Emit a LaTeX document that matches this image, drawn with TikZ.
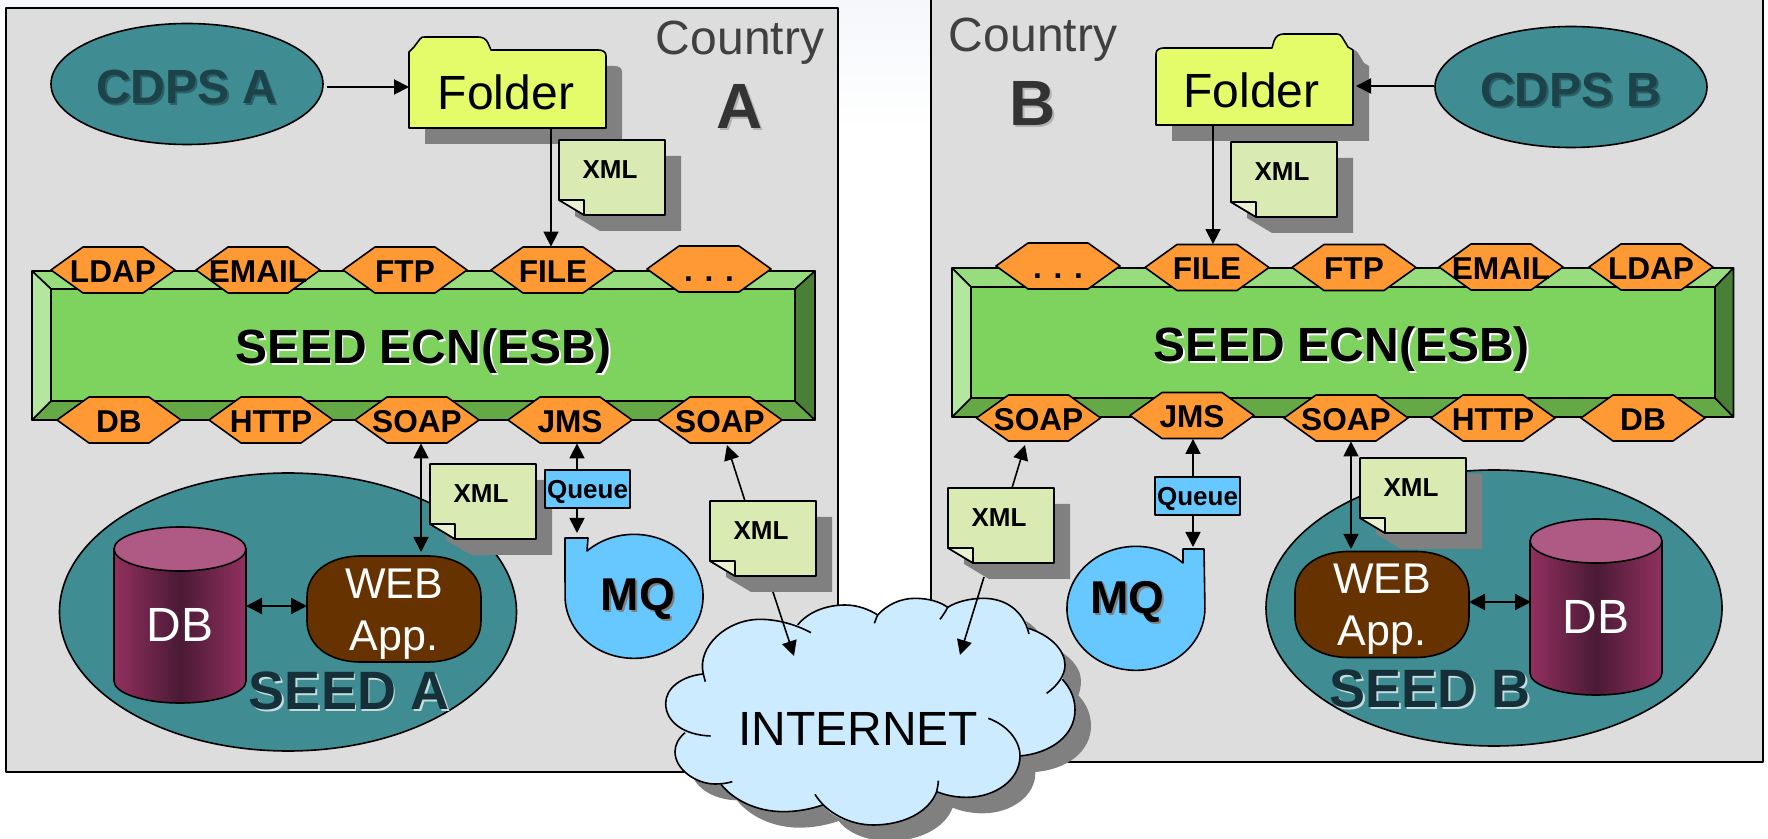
\documentclass[tikz,border=0pt]{standalone}
\usepackage{fontspec}
\setmainfont{Liberation Sans}
\usetikzlibrary{arrows.meta,shapes.geometric}
\definecolor{panelgrey}{HTML}{DDDDDD}
\definecolor{shadowgrey}{HTML}{808080}
\definecolor{teal}{HTML}{3F8C92}
\definecolor{tealtext}{HTML}{1C4349}
\definecolor{seedtext}{HTML}{16303A}
\definecolor{foldery}{HTML}{E4FB6A}
\definecolor{docgreen}{HTML}{DAEAB3}
\definecolor{hexorange}{HTML}{FF9933}
\definecolor{barmid}{HTML}{7ED35E}
\definecolor{bartop}{HTML}{97DC7D}
\definecolor{barleft}{HTML}{B3E69E}
\definecolor{barbot}{HTML}{65A846}
\definecolor{barright}{HTML}{4A8036}
\definecolor{mqblue}{HTML}{66C8FF}
\definecolor{cloudblue}{HTML}{CCEBFF}
\definecolor{webbrown}{HTML}{663300}
\definecolor{dbedge}{HTML}{92305F}
\definecolor{dbmid}{HTML}{4A1A35}
\definecolor{dbcap}{HTML}{AE5A85}
\definecolor{labelgrey}{HTML}{404040}
\definecolor{bgtint}{HTML}{F5F7FB}
\tikzset{
  x=0.5pt,y=-0.5pt,
  line width=0.8pt,
  outline/.style={draw=black,line width=0.8pt,line join=round},
  shadowfill/.style={fill=shadowgrey,draw=none},
  hexline/.style={outline,fill=hexorange},
  hexlabel/.style={inner sep=0pt,minimum width=62pt,minimum height=23pt,text height=12.4pt,text depth=0pt,font=\fontsize{15.8}{18}\selectfont\bfseries},
  doclabel/.style={inner sep=0pt,font=\fontsize{13}{15}\selectfont\bfseries},
  link/.style={draw=black,line width=0.8pt,-{Triangle[length=7.5pt,width=7.5pt]}},
  linkboth/.style={draw=black,line width=0.8pt,{Triangle[length=7.5pt,width=7.5pt]}-{Triangle[length=7.5pt,width=7.5pt]}},
  heavy/.style={draw=black,line width=1.1pt,{Triangle[length=8pt,width=8pt]}-{Triangle[length=8pt,width=8pt]}},
  cdps/.style={ellipse,outline,fill=teal,inner sep=0pt,minimum width=136pt,minimum height=60.5pt},
  seedblob/.style={ellipse,outline,fill=teal,inner sep=0pt},
  queuebox/.style={rectangle,outline,fill=mqblue,inner sep=0pt,minimum width=42.5pt,minimum height=19pt,text height=12.5pt,text depth=2.7pt,font=\fontsize{13}{15}\selectfont\bfseries},
  plainlabel/.style={inner sep=0pt},
}
\newcommand{\hexn}[4]{%
  \draw[hexline,shift={(#2,#3)}] (-62,0)--(-30,-23)--(30,-23)--(62,0)--(30,23)--(-30,23)--cycle;
  \node[hexlabel] (#1) at (#2,#3) {#4};}
\newcommand{\docn}[3]{%
  \fill[shadowfill,shift={(#2+16,#3+16)}] (0,0)--(106,0)--(106,75)--(25,75)--(0,60)--cycle;
  \draw[outline,fill=docgreen,shift={(#2,#3)}] (0,0)--(106,0)--(106,75)--(25,75)--(0,60)--cycle;
  \draw[outline,fill=docgreen!60!white,shift={(#2,#3)}] (0,60)--(25,60)--(25,75)--cycle;
  \node[doclabel] (#1) at (#2+51,#3+30) {XML};}
\newcommand{\barn}[9]{% name, x1,y1,x2,y2, ix1,iy1,ix2,iy2
  \draw[outline,fill=bartop] (#2,#3)--(#4,#3)--(#8,#7)--(#6,#7)--cycle;
  \draw[outline,fill=barbot] (#2,#5)--(#4,#5)--(#8,#9)--(#6,#9)--cycle;
  \draw[outline,fill=barleft] (#2,#3)--(#6,#7)--(#6,#9)--(#2,#5)--cycle;
  \draw[outline,fill=barright] (#4,#3)--(#8,#7)--(#8,#9)--(#4,#5)--cycle;
  \draw[outline,fill=barmid] (#6,#7) rectangle (#8,#9);}
\newcommand{\webn}[3]{%
  \draw[outline,fill=webbrown,shift={(#2,#3)}] (-33,-53)--(33,-53) .. controls (67,-53) and (87,-35) .. (87,-12)--(87,12) .. controls (87,35) and (67,53) .. (33,53)--(-33,53) .. controls (-67,53) and (-87,35) .. (-87,12)--(-87,-12) .. controls (-87,-35) and (-67,-53) .. (-33,-53)--cycle;
  \node[plainlabel,text=white,align=center,font=\fontsize{21.5}{26}\selectfont] (#1) at (#2,#3+5) {WEB\\App.};}
\newcommand{\cylinder}[4]{% name, cx, top, textY
  \draw[outline,left color=dbedge,right color=dbedge,middle color=dbmid,shift={(#2,#3)}] (-66,22)--(-66,154) arc[start angle=180,end angle=0,x radius=66,y radius=22]--(66,22)--cycle;
  \draw[outline,fill=dbcap,shift={(#2,#3)}] (0,22) ellipse [x radius=66,y radius=22];
  \node[plainlabel,text=white,font=\fontsize{24}{26}\selectfont] (#1) at (#2,#4) {DB};}
\newcommand{\shtext}[7]{% name, x, y, size, color, shadowcolor, text
  \node[plainlabel,text=#6,font=\fontsize{#4}{#4}\selectfont\bfseries] (#1s) at (#2+1.8,#3+1.8) {#7};
  \node[plainlabel,text=#5,font=\fontsize{#4}{#4}\selectfont\bfseries] (#1) at (#2,#3) {#7};}
\def\cloudoutline{(160,252) .. controls (140,170) and (230,88) .. (330,88) .. controls (375,88) and (420,95) .. (443,105)
 .. controls (475,65) and (530,45) .. (585,45) .. controls (625,45) and (660,60) .. (683,75)
 .. controls (710,45) and (750,25) .. (795,25) .. controls (835,25) and (870,35) .. (893,52)
 .. controls (920,35) and (960,25) .. (1000,25) .. controls (1065,25) and (1120,60) .. (1135,115)
 .. controls (1200,135) and (1245,180) .. (1245,225) .. controls (1245,240) and (1242,255) .. (1237,268)
 .. controls (1262,295) and (1275,325) .. (1275,360) .. controls (1275,435) and (1205,490) .. (1108,498)
 .. controls (1110,570) and (1035,622) .. (950,622) .. controls (915,622) and (885,615) .. (860,605)
 .. controls (835,670) and (755,705) .. (670,705) .. controls (600,705) and (545,680) .. (518,645)
 .. controls (480,658) and (440,665) .. (400,665) .. controls (320,665) and (250,630) .. (213,583)
 .. controls (140,582) and (75,540) .. (75,485) .. controls (75,465) and (85,445) .. (105,428)
 .. controls (70,405) and (47,375) .. (47,340) .. controls (47,295) and (95,258) .. (160,252) -- cycle}
\begin{document}
\begin{tikzpicture}
\path[use as bounding box] (0,0) rectangle (1768,839);
\clip (0,0) rectangle (1768,839);
\fill[white] (0,0) rectangle (1768,839);
\fill[bgtint] (0,0) rectangle (931,7);
\shade[top color=bgtint,bottom color=white] (838,0) rectangle (931,130);

% ---------- Country A ----------
\draw[outline,fill=panelgrey] (6,8) rectangle (838,772);
\node[plainlabel,anchor=base,text=labelgrey,font=\fontsize{24}{26}\selectfont] (countryA) at (740,55) {Country};
\node[plainlabel,anchor=base,text=shadowgrey!60!white,font=\fontsize{32}{34}\selectfont\bfseries] (letterAs) at (741.5,130.5) {A};
\node[plainlabel,anchor=base,text=labelgrey!80!black,font=\fontsize{32}{34}\selectfont\bfseries] (letterA) at (740,129) {A};

\node[cdps] (cdpsA) at (187,84) {};
\shtext{cdpsAt}{187}{87}{24}{tealtext}{tealtext!60!teal}{CDPS A}

\fill[shadowfill,shift={(16,16)}] (409,128)--(409,52)--(414,47)--(420,39) .. controls (421,37) and (423,37) .. (425,37)--(478,37) .. controls (483,37) and (486,39) .. (488,43)--(491,50)--(598,50) .. controls (603,50) and (606,52) .. (606,56)--(606,128)--cycle;
\draw[outline,fill=foldery] (409,128)--(409,52)--(414,47)--(420,39) .. controls (421,37) and (423,37) .. (425,37)--(478,37) .. controls (483,37) and (486,39) .. (488,43)--(491,50)--(598,50) .. controls (603,50) and (606,52) .. (606,56)--(606,128)--cycle;
\node[plainlabel,font=\fontsize{24}{26}\selectfont] (folderA) at (506,92) {Folder};
\coordinate (folderAw) at (409,87);
\coordinate (folderAs) at (551,128);

\docn{xmlAa}{559}{140}

\barn{esbA}{32}{271}{815}{420}{51}{289}{795}{401}
\shtext{esbAt}{424}{351}{24}{black}{white}{SEED ECN(ESB)}

\hexn{ldapA}{113}{270}{LDAP}
\hexn{emailA}{258}{270}{EMAIL}
\hexn{ftpA}{405}{270}{FTP}
\hexn{fileA}{553}{270}{FILE}
\hexn{moreA}{709}{269}{. . .}
\hexn{dbhexA}{119}{420}{DB}
\hexn{httpA}{271}{420}{HTTP}
\hexn{soapA}{417}{420}{SOAP}
\hexn{jmsA}{570}{420}{JMS}
\hexn{soapAb}{720}{420}{SOAP}

\node[seedblob,minimum width=228.5pt,minimum height=139pt] (seedA) at (288,612) {};
\cylinder{dbA}{180}{527}{625}
\webn{webA}{394}{609}
\coordinate (dbAe) at (246,606);
\coordinate (webAw) at (307,606);
\draw[heavy] (dbAe) -- (webAw);
\shtext{seedAt}{349.5}{691}{27}{seedtext}{white!70!teal}{SEED A}

\docn{xmlAb}{430}{464}
\coordinate (webAn) at (421,552);
\draw[linkboth] (soapA.south -| webAn) -- (webAn);

\draw[outline,fill=mqblue] (565,538)--(588,538)--(587,551) arc[start angle=-133,end angle=180,x radius=69,y radius=62]--cycle;
\shtext{mqA}{638}{599}{23}{black}{shadowgrey}{MQ}
\node[queuebox] (queueA) at (587.5,489) {Queue};
\coordinate (queueAx) at (577,470);
\coordinate (mqAn) at (577,533);
\draw[link] (queueAx) -- (queueAx |- jmsA.south);
\draw[link] (queueA.south -| mqAn) -- (mqAn);

\docn{xmlAc}{710}{501}
\coordinate (xmlActop) at (745,501);
\coordinate (soapAend) at (727,445);
\draw[link] (xmlActop) -- (soapAend);

% ---------- Country B ----------
\draw[outline,fill=panelgrey] (931,-6) rectangle (1763,762);
\node[plainlabel,anchor=base,text=labelgrey,font=\fontsize{24}{26}\selectfont] (countryB) at (1033,52) {Country};
\node[plainlabel,anchor=base,text=shadowgrey!60!white,font=\fontsize{32}{34}\selectfont\bfseries] (letterBs) at (1034.5,127.5) {B};
\node[plainlabel,anchor=base,text=labelgrey!80!black,font=\fontsize{32}{34}\selectfont\bfseries] (letterB) at (1033,126) {B};

\node[cdps] (cdpsB) at (1571,87) {};
\shtext{cdpsBt}{1571}{90}{24}{tealtext}{tealtext!60!teal}{CDPS B}

\fill[shadowfill,shift={(16,16)}] (1156,125)--(1156,54) .. controls (1156,50) and (1159,48) .. (1164,48)--(1272,48)--(1274,41) .. controls (1276,36) and (1279,34) .. (1284,34)--(1337,34) .. controls (1339,34) and (1341,35) .. (1342,37)--(1348,47)--(1353,50)--(1353,125)--cycle;
\draw[outline,fill=foldery] (1156,125)--(1156,54) .. controls (1156,50) and (1159,48) .. (1164,48)--(1272,48)--(1274,41) .. controls (1276,36) and (1279,34) .. (1284,34)--(1337,34) .. controls (1339,34) and (1341,35) .. (1342,37)--(1348,47)--(1353,50)--(1353,125)--cycle;
\node[plainlabel,font=\fontsize{24}{26}\selectfont] (folderB) at (1251.5,90) {Folder};
\coordinate (folderBe) at (1356,86);
\coordinate (folderBs) at (1213,125);

\docn{xmlBa}{1231}{142}

\barn{esbB}{952}{268}{1733.5}{417}{971}{287}{1715}{398}
\shtext{esbBt}{1342}{349}{24}{black}{white}{SEED ECN(ESB)}

\hexn{moreB}{1058}{266}{. . .}
\hexn{fileB}{1207}{267.5}{FILE}
\hexn{ftpB}{1354}{267.5}{FTP}
\hexn{emailB}{1501}{267}{EMAIL}
\hexn{ldapB}{1651}{267}{LDAP}
\hexn{soapB}{1038.5}{418}{SOAP}
\hexn{jmsB}{1192}{415.5}{JMS}
\hexn{soapBb}{1346}{418}{SOAP}
\hexn{httpB}{1493}{418}{HTTP}
\hexn{dbhexB}{1643}{418}{DB}

\node[seedblob,minimum width=228pt,minimum height=138pt] (seedB) at (1494,608) {};
\cylinder{dbB}{1596}{519}{617}
\webn{webB}{1382}{604.5}
\coordinate (dbBw) at (1531,602);
\coordinate (webBe) at (1469,602);
\draw[heavy] (webBe) -- (dbBw);
\shtext{seedBt}{1430}{689}{27}{seedtext}{white!70!teal}{SEED B}

\docn{xmlBb}{1360}{458}
\coordinate (webBn) at (1351,549);
\draw[linkboth] (soapBb.south -| webBn) -- (webBn);

\draw[outline,fill=mqblue] (1204,549)--(1183,549)--(1183,563) arc[start angle=-47,end angle=-360,x radius=69,y radius=62]--cycle;
\shtext{mqB}{1127.5}{602}{23}{black}{shadowgrey}{MQ}
\node[queuebox] (queueB) at (1197.5,496) {Queue};
\coordinate (queueBx) at (1193,477);
\coordinate (mqBn) at (1193,547);
\draw[link] (queueBx) -- (queueBx |- jmsB.south);
\draw[link] (queueB.south -| mqBn) -- (mqBn);

\docn{xmlBc}{948}{488}
\coordinate (xmlBctop) at (1012,488);
\coordinate (soapBend) at (1025,445);
\draw[link] (xmlBctop) -- (soapBend);

% ---------- top connectors ----------
\draw[link,line width=1pt] (cdpsA.east |- folderAw) ++(3,0) -- (folderAw);
\draw[link] (folderAs) -- (folderAs |- fileA.north);
\draw[link,line width=1pt] (cdpsB.west |- folderBe) -- (folderBe);
\draw[link] (folderBs) -- (folderBs |- fileB.north);

% ---------- Internet cloud ----------
\begin{scope}[shift={(650+16,590+16)},scale=1/3]
\fill[shadowfill] \cloudoutline;
\end{scope}
\begin{scope}[shift={(650,590)},scale=1/3]
\fill[cloudblue] \cloudoutline;
\begin{scope}[outline,fill=none]
\draw (160,252) .. controls (140,170) and (230,88) .. (330,88) .. controls (385,88) and (440,105) .. (483,128);
\draw (443,105) .. controls (475,65) and (530,45) .. (585,45) .. controls (625,45) and (660,60) .. (683,75);
\draw (673,100) .. controls (678,88) and (680,80) .. (683,75) .. controls (710,45) and (750,25) .. (795,25) .. controls (835,25) and (870,35) .. (893,52);
\draw (870,88) .. controls (880,75) and (888,62) .. (893,52) .. controls (920,35) and (960,25) .. (1000,25) .. controls (1065,25) and (1120,60) .. (1137,132);
\draw (1135,115) .. controls (1200,135) and (1245,180) .. (1245,225) .. controls (1245,255) and (1225,285) .. (1190,310);
\draw (1237,268) .. controls (1262,295) and (1275,325) .. (1275,360) .. controls (1275,435) and (1205,490) .. (1108,498);
\draw (1015,385) .. controls (1070,405) and (1110,450) .. (1110,498) .. controls (1110,570) and (1035,622) .. (950,622) .. controls (915,622) and (885,615) .. (860,605);
\draw (865,572) .. controls (865,582) and (862,595) .. (860,605) .. controls (835,670) and (755,705) .. (670,705) .. controls (600,705) and (530,670) .. (495,613);
\draw (518,645) .. controls (480,658) and (440,665) .. (400,665) .. controls (320,665) and (250,630) .. (213,583);
\draw (247,575) .. controls (230,580) and (215,582) .. (195,582) .. controls (140,582) and (75,540) .. (75,485) .. controls (75,465) and (85,445) .. (105,428);
\draw (182,438) .. controls (100,435) and (47,395) .. (47,340) .. controls (47,295) and (95,258) .. (160,252) .. controls (162,260) and (164,268) .. (166,275);
\end{scope}
\end{scope}
\node[plainlabel,anchor=base,font=\fontsize{24}{26}\selectfont] (internet) at (858,745) {INTERNET};

\coordinate (xmlAcout) at (773,592);
\coordinate (cloudinA) at (794,656);
\coordinate (xmlBcout) at (984,577);
\coordinate (cloudinB) at (960,655);
\draw[link] (xmlAcout) -- (cloudinA);
\draw[link] (xmlBcout) -- (cloudinB);
\end{tikzpicture}
\end{document}
